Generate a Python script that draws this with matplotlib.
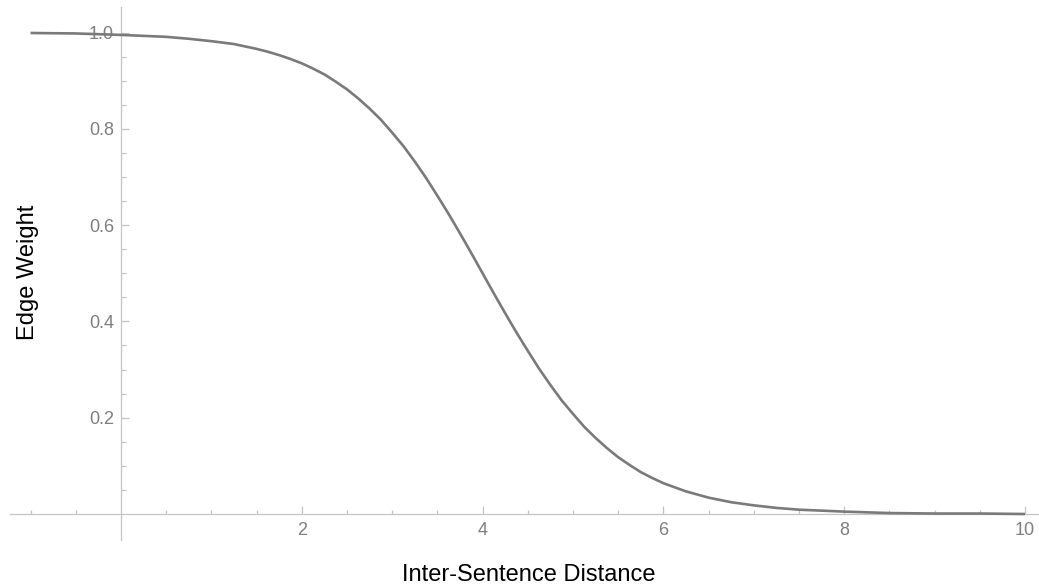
import numpy as np
import matplotlib.pyplot as plt
from matplotlib.ticker import FixedLocator

# Valores (distancia entre oraciones -> peso de la arista)
distancia = [-1.0, -0.5, 0.0, 0.5, 0.75, 1.0, 1.25, 1.375, 1.5, 1.625, 1.75,
             1.875, 2.0, 2.125, 2.25, 2.375, 2.5, 2.625, 2.75, 2.875, 3.0,
             3.125, 3.25, 3.375, 3.5, 3.625, 3.75, 3.875, 4.0, 4.125, 4.25,
             4.375, 4.5, 4.625, 4.75, 4.875, 5.0, 5.125, 5.25, 5.375, 5.5,
             5.625, 5.75, 5.875, 6.0, 6.25, 6.5, 6.75, 7.0, 7.25, 7.5, 8.0,
             8.5, 9.0, 9.5, 10.0]
peso = [0.999, 0.998, 0.995, 0.991, 0.987, 0.982, 0.976, 0.971, 0.966, 0.960,
        0.953, 0.945, 0.936, 0.925, 0.913, 0.898, 0.882, 0.863, 0.842, 0.819,
        0.792, 0.764, 0.732, 0.698, 0.661, 0.623, 0.583, 0.542, 0.500, 0.458,
        0.417, 0.377, 0.339, 0.302, 0.268, 0.236, 0.208, 0.181, 0.158, 0.137,
        0.118, 0.102, 0.087, 0.075, 0.064, 0.047, 0.034, 0.0245, 0.018,
        0.0127, 0.009, 0.005, 0.002, 0.001, 0.001, 0.000]

x_mayores = [2, 4, 6, 8, 10]
x_menores = [-1, -0.5, 0.5, 1, 1.5, 2.5, 3, 3.5, 4.5, 5, 5.5, 6.5, 7, 7.5,
             8.5, 9, 9.5]
y_mayores = [0.2, 0.4, 0.6, 0.8, 1.0]
y_menores = [0.05, 0.1, 0.15, 0.25, 0.3, 0.35, 0.45, 0.5, 0.55, 0.65, 0.7,
             0.75, 0.85, 0.9, 0.95]

plt.rcParams['font.family'] = ['Liberation Sans', 'DejaVu Sans']

fig = plt.figure(figsize=(10.39, 5.86), dpi=100)
ax = fig.add_axes([0, 0, 1, 1])
ax.patch.set_alpha(0)

# Límites para que los ejes crucen en el origen como en Mathematica
ax.set_xlim(-1.338, 10.155)
ax.set_ylim(-0.1495, 1.0675)

ax.plot(distancia, peso, color='#7a7a7a', linewidth=1.9, zorder=5,
        solid_capstyle='butt', solid_joinstyle='round')

for lado in ['top', 'right']:
    ax.spines[lado].set_visible(False)
ax.spines['left'].set_position(('data', 0))
ax.spines['bottom'].set_position(('data', 0))
ax.spines['bottom'].set_bounds(-1.23, 10.155)
ax.spines['left'].set_bounds(-0.054, 1.053)
for lado in ['left', 'bottom']:
    ax.spines[lado].set_color('#c4c4c4')
    ax.spines[lado].set_linewidth(0.9)

ax.xaxis.set_major_locator(FixedLocator(x_mayores))
ax.xaxis.set_minor_locator(FixedLocator(x_menores))
ax.yaxis.set_major_locator(FixedLocator(y_mayores))
ax.yaxis.set_minor_locator(FixedLocator(y_menores))
ax.set_xticklabels([str(v) for v in x_mayores])
ax.set_yticklabels(['%.1f' % v for v in y_mayores])

ax.tick_params(which='both', direction='in', color='#c4c4c4', width=0.9,
               labelcolor='#7f7f7f', labelsize=13)
ax.tick_params(axis='x', which='major', length=5.5, pad=5.5)
ax.tick_params(axis='x', which='minor', length=3.2)
ax.tick_params(axis='y', which='major', length=6, pad=5)
ax.tick_params(axis='y', which='minor', length=3.6)

ax.set_xlabel('Inter-Sentence Distance', fontsize=17, color='black')
ax.xaxis.set_label_coords(0.509, 0.0375)
ax.set_ylabel('Edge Weight', fontsize=17, color='black')
ax.yaxis.set_label_coords(0.0375, 0.536)

fig.savefig('out.png', dpi=100)
